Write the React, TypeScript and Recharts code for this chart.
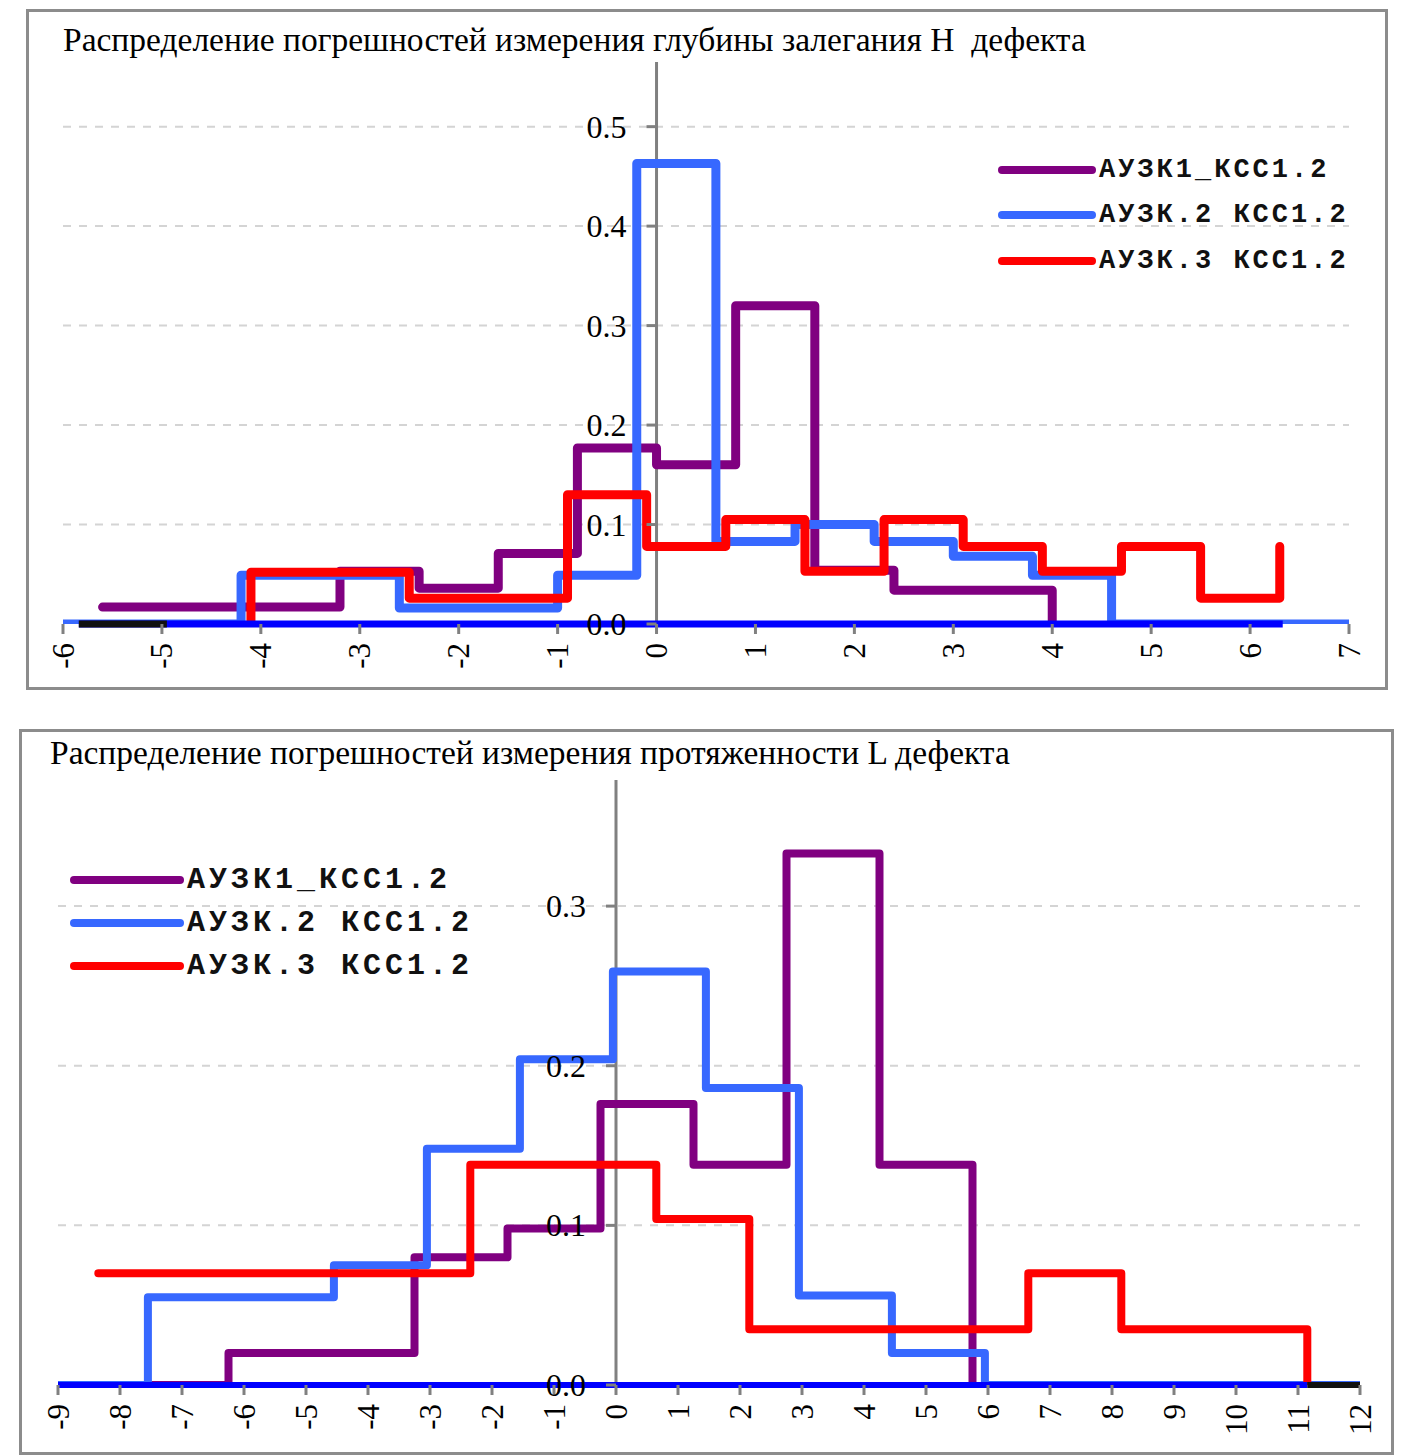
import React from 'react';
import {
  LineChart,
  Line,
  XAxis,
  YAxis,
  CartesianGrid,
  ReferenceLine,
  ReferenceDot
} from 'recharts';

// legend names and series colours (same for both charts)
const SERIES_NAMES = ['АУЗК1_КСС1.2', 'АУЗК.2 КСС1.2', 'АУЗК.3 КСС1.2'];
const SERIES_COLORS = ['#800080', '#3768ff', '#ff0000'];

// --- top chart: depth H ---
const H_TITLE = 'Распределение погрешностей измерения глубины залегания H  дефекта';
const H_X_TICKS = [-6, -5, -4, -3, -2, -1, 0, 1, 2, 3, 4, 5, 6, 7];
const H_Y_TICKS = [0, 0.1, 0.2, 0.3, 0.4, 0.5];
// [x, y] pairs, drawn as step-after lines
const H_PURPLE = [
  [-5.6, 0.017], [-3.2, 0.053], [-2.4, 0.036], [-1.6, 0.071], [-0.8, 0.177],
  [0, 0.16], [0.8, 0.32], [1.6, 0.054], [2.4, 0.034], [4.0, 0]
];
const H_BLUE = [
  [-6, 0], [-4.2, 0.049], [-2.6, 0.016], [-1.0, 0.049], [-0.2, 0.463], [0.6, 0.083],
  [1.4, 0.1], [2.2, 0.083], [3.0, 0.068], [3.8, 0.049], [4.6, 0], [7, 0]
];
const H_RED = [
  [-4.1, 0], [-4.1, 0.052], [-2.5, 0.026], [-0.9, 0.13], [-0.1, 0.078], [0.7, 0.105],
  [1.5, 0.053], [2.3, 0.105], [3.1, 0.078], [3.9, 0.053], [4.7, 0.078], [5.5, 0.026], [6.3, 0.078]
];
const H_BASE_BLUE = [-5.84, 6.33];
const H_BASE_BLACK = [-5.84, -4.95];

// --- bottom chart: length L ---
const L_TITLE = 'Распределение погрешностей измерения протяженности L дефекта';
const L_X_TICKS = [-9, -8, -7, -6, -5, -4, -3, -2, -1, 0, 1, 2, 3, 4, 5, 6, 7, 8, 9, 10, 11, 12];
const L_Y_TICKS = [0, 0.1, 0.2, 0.3];
const L_PURPLE = [
  [-7.55, 0], [-6.25, 0.02], [-3.25, 0.08], [-1.75, 0.098], [-0.25, 0.176],
  [1.25, 0.138], [2.75, 0.333], [4.25, 0.138], [5.75, 0]
];
const L_BLUE = [
  [-9, 0], [-7.55, 0.055], [-4.55, 0.075], [-3.05, 0.148], [-1.55, 0.204], [-0.05, 0.259],
  [1.45, 0.186], [2.95, 0.056], [4.45, 0.02], [5.95, 0], [12, 0]
];
const L_RED = [
  [-8.35, 0.07], [-2.35, 0.138], [0.65, 0.104], [2.15, 0.035], [6.65, 0.07], [8.15, 0.035], [11.15, 0]
];
const L_BASE_BLUE = [-9, 11.15];
const L_BASE_BLACK = [11.15, 12];

const SERIF = "'Liberation Serif', 'Times New Roman', serif";
const MONO = "'Liberation Mono', 'Courier New', monospace";

const toPts = (a: number[][]) => a.map(([x, y]) => ({ x, y }));

const XTick = ({ x, y, payload }: any) => (
  <text
    transform={`translate(${x},${y + 9}) rotate(-90)`}
    textAnchor="end"
    dominantBaseline="central"
    fontFamily={SERIF}
    fontSize={31}
    fill="#000"
  >
    {payload.value}
  </text>
);

const yLabel = (v: number) => (p: any) => (
  <g>
    <line x1={p.cx - 10} y1={p.cy} x2={p.cx} y2={p.cy} stroke="#808080" strokeWidth={3} />
    <text
      x={p.cx - 30}
      y={p.cy}
      textAnchor="end"
      dominantBaseline="central"
      fontFamily={SERIF}
      fontSize={32}
      fill="#000"
    >
      {v.toFixed(1)}
    </text>
  </g>
);

interface StepChartProps {
  series: number[][][];
  xTicks: number[];
  yTicks: number[];
  yMax: number;
  baseBlue: number[];
  baseBlack: number[];
  width: number;
  height: number;
  margin: { top: number; right: number; bottom: number; left: number };
  xAxisHeight: number;
  lineWidth: number;
  baseWidth: number;
}

const StepChart = ({
  series, xTicks, yTicks, yMax, baseBlue, baseBlack, width, height, margin, xAxisHeight, lineWidth, baseWidth
}: StepChartProps) => (
  <LineChart width={width} height={height} margin={margin}>
    <CartesianGrid
      horizontal
      vertical={false}
      stroke="#d4d4d4"
      strokeWidth={2}
      strokeDasharray="8 8"
      horizontalValues={yTicks.filter((t) => t > 0)}
    />
    <XAxis
      type="number"
      dataKey="x"
      domain={[xTicks[0], xTicks[xTicks.length - 1]]}
      ticks={xTicks}
      interval={0}
      allowDataOverflow
      axisLine={false}
      tickLine={{ stroke: '#808080', strokeWidth: 3 }}
      tickSize={10}
      tickMargin={0}
      height={xAxisHeight}
      tick={<XTick />}
    />
    <YAxis type="number" dataKey="y" domain={[0, yMax]} ticks={yTicks} hide allowDataOverflow />
    <ReferenceLine x={0} stroke="#808080" strokeWidth={3} />
    {series.map((s, i) => (
      <Line
        key={SERIES_NAMES[i]}
        data={toPts(s)}
        dataKey="y"
        name={SERIES_NAMES[i]}
        type="stepAfter"
        stroke={SERIES_COLORS[i]}
        strokeWidth={lineWidth}
        strokeLinejoin="round"
        strokeLinecap="round"
        dot={false}
        activeDot={false}
        isAnimationActive={false}
      />
    ))}
    <ReferenceLine
      segment={[{ x: baseBlue[0], y: 0 }, { x: baseBlue[1], y: 0 }]}
      stroke="#0000ff"
      strokeWidth={baseWidth}
    />
    <ReferenceLine
      segment={[{ x: baseBlack[0], y: 0 }, { x: baseBlack[1], y: 0 }]}
      stroke="#111111"
      strokeWidth={baseWidth}
    />
    {yTicks.map((v) => (
      <ReferenceDot key={v} x={0} y={v} r={0} shape={yLabel(v)} />
    ))}
  </LineChart>
);

const SeriesLegend = ({ left, top, lineLen, rowGap, fontSize, spacing }: any) => (
  <div style={{ position: 'absolute', left, top }}>
    {SERIES_NAMES.map((n, i) => (
      <div key={n} style={{ display: 'flex', alignItems: 'center', height: rowGap }}>
        <svg width={lineLen + 10} height={12} style={{ flex: 'none' }}>
          <line x1={5} y1={6} x2={lineLen + 5} y2={6} stroke={SERIES_COLORS[i]} strokeWidth={8} strokeLinecap="round" />
        </svg>
        <span
          style={{
            fontFamily: MONO,
            fontWeight: 'bold',
            fontSize,
            letterSpacing: spacing,
            whiteSpace: 'pre',
            marginLeft: 2,
            color: '#111'
          }}
        >
          {n}
        </span>
      </div>
    ))}
  </div>
);

const boxStyle = (left: number, top: number, width: number, height: number): React.CSSProperties => ({
  position: 'absolute',
  left,
  top,
  width,
  height,
  boxSizing: 'border-box',
  border: '3px solid #8c8c8c',
  background: '#fff'
});

const titleStyle = (left: number, top: number): React.CSSProperties => ({
  position: 'absolute',
  left,
  top,
  fontFamily: SERIF,
  fontSize: 33.5,
  lineHeight: 1,
  whiteSpace: 'pre',
  color: '#000'
});

export default function App() {
  return (
    <div style={{ position: 'absolute', left: 0, top: 0, width: 1408, height: 1456, background: '#fff', overflow: 'hidden' }}>
      {/* top chart */}
      <div style={boxStyle(26, 9, 1362, 681)} />
      <div style={{ position: 'absolute', left: 0, top: 0 }}>
        <StepChart
          series={[H_PURPLE, H_BLUE, H_RED]}
          xTicks={H_X_TICKS}
          yTicks={H_Y_TICKS}
          yMax={0.565}
          baseBlue={H_BASE_BLUE}
          baseBlack={H_BASE_BLACK}
          width={1408}
          height={720}
          margin={{ top: 62, right: 59, bottom: 36, left: 63 }}
          xAxisHeight={60}
          lineWidth={9}
          baseWidth={7}
        />
      </div>
      <div style={titleStyle(63, 23)}>{H_TITLE}</div>
      <SeriesLegend left={997} top={147} lineLen={90} rowGap={45.5} fontSize={27} spacing={3} />

      {/* bottom chart */}
      <div style={boxStyle(19, 729, 1375, 726)} />
      <div style={{ position: 'absolute', left: 0, top: 720 }}>
        <StepChart
          series={[L_PURPLE, L_BLUE, L_RED]}
          xTicks={L_X_TICKS}
          yTicks={L_Y_TICKS}
          yMax={0.379}
          baseBlue={L_BASE_BLUE}
          baseBlack={L_BASE_BLACK}
          width={1408}
          height={736}
          margin={{ top: 60, right: 48, bottom: 21, left: 58 }}
          xAxisHeight={50}
          lineWidth={8}
          baseWidth={6}
        />
      </div>
      <div style={titleStyle(50, 736)}>{L_TITLE}</div>
      <SeriesLegend left={69} top={858} lineLen={106} rowGap={43} fontSize={30} spacing={4} />
    </div>
  );
}
